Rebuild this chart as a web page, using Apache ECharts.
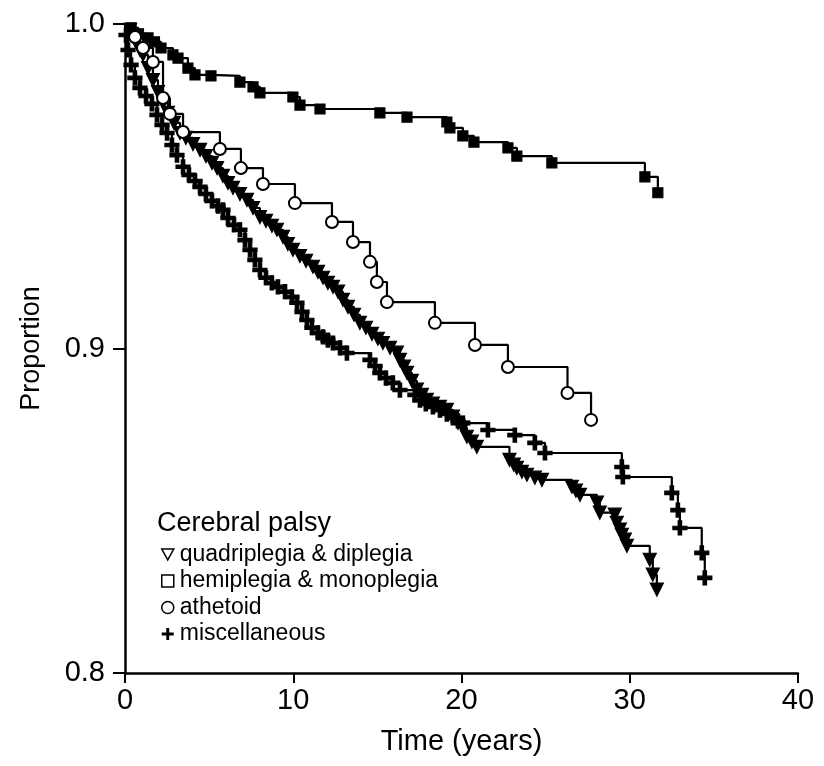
<!DOCTYPE html>
<html>
<head>
<meta charset="utf-8">
<script src="https://cdn.jsdelivr.net/npm/echarts@6/dist/echarts.min.js"></script>
<style>
  html, body { margin: 0; padding: 0; background: #fff; }
  #chart { width: 824px; height: 766px; }
</style>
</head>
<body>
<div id="chart"></div>
<script>
// Kaplan-Meier curves: [time in years, proportion surviving]
var seriesNames = ['quadriplegia & diplegia', 'hemiplegia & monoplegia', 'athetoid', 'miscellaneous'];

var quadData = [
  [0, 1], [0.30, 0.9982], [0.59, 0.9951], [0.89, 0.9920], [1.07, 0.9905], [1.37, 0.9864],
  [1.66, 0.9827], [1.96, 0.9790], [2.26, 0.9757], [2.55, 0.9726], [2.91, 0.9695], [3.27, 0.9664],
  [3.62, 0.9649], [4.04, 0.9630], [4.46, 0.9612], [4.81, 0.9593], [5.17, 0.9572], [5.47, 0.9556],
  [5.82, 0.9532], [6.12, 0.9510], [6.42, 0.9495], [6.83, 0.9476], [7.25, 0.9458], [7.61, 0.9433],
  [8.02, 0.9405], [8.38, 0.9393], [8.73, 0.9378], [9.03, 0.9366], [9.39, 0.9344], [9.68, 0.9322],
  [9.98, 0.9304], [10.40, 0.9285], [10.76, 0.9270], [11.17, 0.9252], [11.47, 0.9236], [11.77, 0.9218],
  [12.06, 0.9202], [12.36, 0.9190], [12.66, 0.9175], [12.95, 0.9150], [13.25, 0.9128], [13.61, 0.9104],
  [13.96, 0.9079], [14.32, 0.9064], [14.68, 0.9045], [15.03, 0.9030], [15.33, 0.9017], [15.75, 0.9002],
  [16.16, 0.8987], [16.34, 0.8965], [16.58, 0.8944], [16.76, 0.8925], [17.05, 0.8900], [17.35, 0.8873],
  [17.65, 0.8857], [17.94, 0.8842], [18.30, 0.8830], [18.72, 0.8820], [19.13, 0.8811], [19.49, 0.8790],
  [19.79, 0.8771], [20.08, 0.8756], [20.32, 0.8728], [20.62, 0.8713], [20.91, 0.8697], [22.85, 0.8657],
  [23.11, 0.8642], [23.29, 0.8632], [23.59, 0.8620], [23.89, 0.8611], [24.36, 0.8602], [24.78, 0.8595],
  [26.56, 0.8574], [26.80, 0.8562], [27.04, 0.8549], [28.05, 0.8525], [28.22, 0.8494], [29.11, 0.8488],
  [29.23, 0.8463], [29.41, 0.8442], [29.53, 0.8426], [29.71, 0.8411], [29.83, 0.8392], [31.19, 0.8349],
  [31.37, 0.8303], [31.61, 0.8257]
];

var hemiData = [
  [0, 1], [0.36, 0.9988], [0.80, 0.9970], [1.37, 0.9957], [1.75, 0.9945], [2.14, 0.9926],
  [2.85, 0.9905], [3.15, 0.9895], [3.74, 0.9864], [4.16, 0.9843], [5.11, 0.9840], [6.83, 0.9821],
  [7.61, 0.9806], [8.02, 0.9788], [9.98, 0.9775], [10.40, 0.9750], [11.59, 0.9738], [15.15, 0.9726],
  [16.76, 0.9713], [19.13, 0.9698], [19.31, 0.9680], [20.08, 0.9655], [20.74, 0.9636], [22.76, 0.9618],
  [23.29, 0.9593], [25.37, 0.9572], [30.90, 0.9529], [31.67, 0.9480]
];

var athData = [
  [0, 1], [0.60, 0.9960], [1.07, 0.9926], [1.66, 0.9883], [2.26, 0.9772], [2.67, 0.9723],
  [3.45, 0.9667], [5.64, 0.9615], [6.89, 0.9556], [8.20, 0.9507], [10.10, 0.9448], [12.30, 0.9390],
  [13.55, 0.9328], [14.56, 0.9267], [14.97, 0.9205], [15.57, 0.9143], [18.42, 0.9079], [20.80, 0.9011],
  [22.76, 0.8943], [26.30, 0.8863], [27.70, 0.8780]
];

var miscData = [
  [0, 1], [0.06, 0.9966], [0.18, 0.9920], [0.36, 0.9874], [0.59, 0.9834], [0.89, 0.9803],
  [1.25, 0.9778], [1.60, 0.9754], [1.90, 0.9720], [2.20, 0.9689], [2.50, 0.9664], [2.79, 0.9627],
  [3.09, 0.9596], [3.45, 0.9560], [3.80, 0.9535], [4.16, 0.9516], [4.46, 0.9498], [4.81, 0.9476],
  [5.17, 0.9455], [5.53, 0.9439], [5.82, 0.9427], [6.12, 0.9402], [6.48, 0.9381], [6.83, 0.9366],
  [7.13, 0.9334], [7.43, 0.9304], [7.72, 0.9273], [8.02, 0.9242], [8.38, 0.9218], [8.73, 0.9202],
  [9.09, 0.9190], [9.51, 0.9175], [9.92, 0.9159], [10.22, 0.9141], [10.52, 0.9113], [10.81, 0.9088],
  [11.11, 0.9064], [11.47, 0.9048], [11.77, 0.9036], [12.06, 0.9026], [12.36, 0.9017], [12.78, 0.9002],
  [13.19, 0.8986], [14.56, 0.8965], [14.86, 0.8946], [15.15, 0.8925], [15.51, 0.8909], [15.92, 0.8894],
  [16.34, 0.8872], [17.23, 0.8857], [17.53, 0.8841], [17.88, 0.8829], [18.30, 0.8820], [18.72, 0.8810],
  [19.13, 0.8798], [19.49, 0.8786], [19.79, 0.8777], [20.08, 0.8770], [21.57, 0.8749], [23.17, 0.8733],
  [24.36, 0.8709], [24.96, 0.8678], [29.53, 0.8635], [29.59, 0.8604], [32.50, 0.8555], [32.86, 0.8502],
  [32.98, 0.8447], [34.28, 0.8370], [34.46, 0.8293]
];

var xTicks = [0, 10, 20, 30, 40];
var yTicks = [0.8, 0.9, 1.0];

var FONT = '"Liberation Sans", Arial, sans-serif';
var plusPath = 'path://M4,0h2.6v4h4v2.6h-4v4h-2.6v-4h-4v-2.6h4z';
var triDown = 'path://M0,0L10,0L5,9Z';

var chart = echarts.init(document.getElementById('chart'));

// no marker at the starting point (t = 0)
var noFirst = function(size) {
  return function(v, p) { return p.dataIndex === 0 ? 0 : size; };
};

var kmSeries = function(name, data, symbol, size, fill, extra) {
  var s = {
    name: name,
    type: 'line',
    step: 'end',
    data: data,
    symbol: symbol,
    symbolSize: noFirst(size),
    showAllSymbol: true,
    animation: false,
    lineStyle: { color: '#000', width: 2.2 },
    itemStyle: { color: fill, borderColor: '#000', borderWidth: fill === '#fff' ? 2 : 1.2 },
    emphasis: { disabled: true },
    z: 3
  };
  return Object.assign(s, extra || {});
};

var option = {
  backgroundColor: '#fff',
  animation: false,
  textStyle: { fontFamily: FONT, color: '#000' },
  grid: { left: 125, top: 24, right: 26, bottom: 93 },
  title: {
    text: 'Cerebral palsy',
    left: 152,
    top: 505,
    textStyle: { fontFamily: FONT, fontSize: 27, fontWeight: 'normal', color: '#000' }
  },
  legend: {
    orient: 'vertical',
    left: 156,
    top: 538,
    itemWidth: 12,
    itemHeight: 12,
    itemGap: 3.5,
    selectedMode: false,
    textStyle: { fontFamily: FONT, fontSize: 23, color: '#000', padding: [0, 0, 0, 1] },
    data: [
      { name: seriesNames[0], icon: triDown, itemStyle: { color: '#fff', borderColor: '#000', borderWidth: 1.5 } },
      { name: seriesNames[1], icon: 'rect', itemStyle: { color: '#fff', borderColor: '#000', borderWidth: 1.5 } },
      { name: seriesNames[2], icon: 'circle', itemStyle: { color: '#fff', borderColor: '#000', borderWidth: 1.5 } },
      { name: seriesNames[3], icon: plusPath, itemStyle: { color: '#000', borderWidth: 0 } }
    ]
  },
  xAxis: {
    type: 'value',
    min: 0,
    max: 40,
    interval: 10,
    name: 'Time (years)',
    nameLocation: 'middle',
    nameGap: 54,
    nameTextStyle: { fontFamily: FONT, fontSize: 29, color: '#000' },
    axisLine: { lineStyle: { color: '#000', width: 2.5 } },
    axisTick: { length: 10, lineStyle: { color: '#000', width: 2 } },
    axisLabel: {
      fontFamily: FONT, fontSize: 29, color: '#000', margin: 13,
      formatter: function(v) { return xTicks.indexOf(v) >= 0 ? String(v) : ''; }
    },
    splitLine: { show: false }
  },
  yAxis: {
    type: 'value',
    min: 0.8,
    max: 1.0,
    interval: 0.1,
    name: 'Proportion',
    nameLocation: 'middle',
    nameGap: 80,
    nameTextStyle: { fontFamily: FONT, fontSize: 27, color: '#000' },
    axisLine: { lineStyle: { color: '#000', width: 2.5 } },
    axisTick: { length: 12, lineStyle: { color: '#000', width: 2 } },
    axisLabel: {
      fontFamily: FONT, fontSize: 29, color: '#000', margin: 20,
      formatter: function(v) {
        var t = yTicks.find(function(y) { return Math.abs(y - v) < 1e-6; });
        return t === undefined ? '' : t.toFixed(1);
      }
    },
    splitLine: { show: false }
  },
  series: [
    kmSeries(seriesNames[0], quadData, 'triangle', 13, '#000', { symbolRotate: 180 }),
    kmSeries(seriesNames[1], hemiData, 'rect', 10, '#000'),
    kmSeries(seriesNames[2], athData, 'circle', 12, '#fff', { z: 4 }),
    kmSeries(seriesNames[3], miscData, plusPath, 14, '#000')
  ]
};

chart.setOption(option);
</script>
</body>
</html>
